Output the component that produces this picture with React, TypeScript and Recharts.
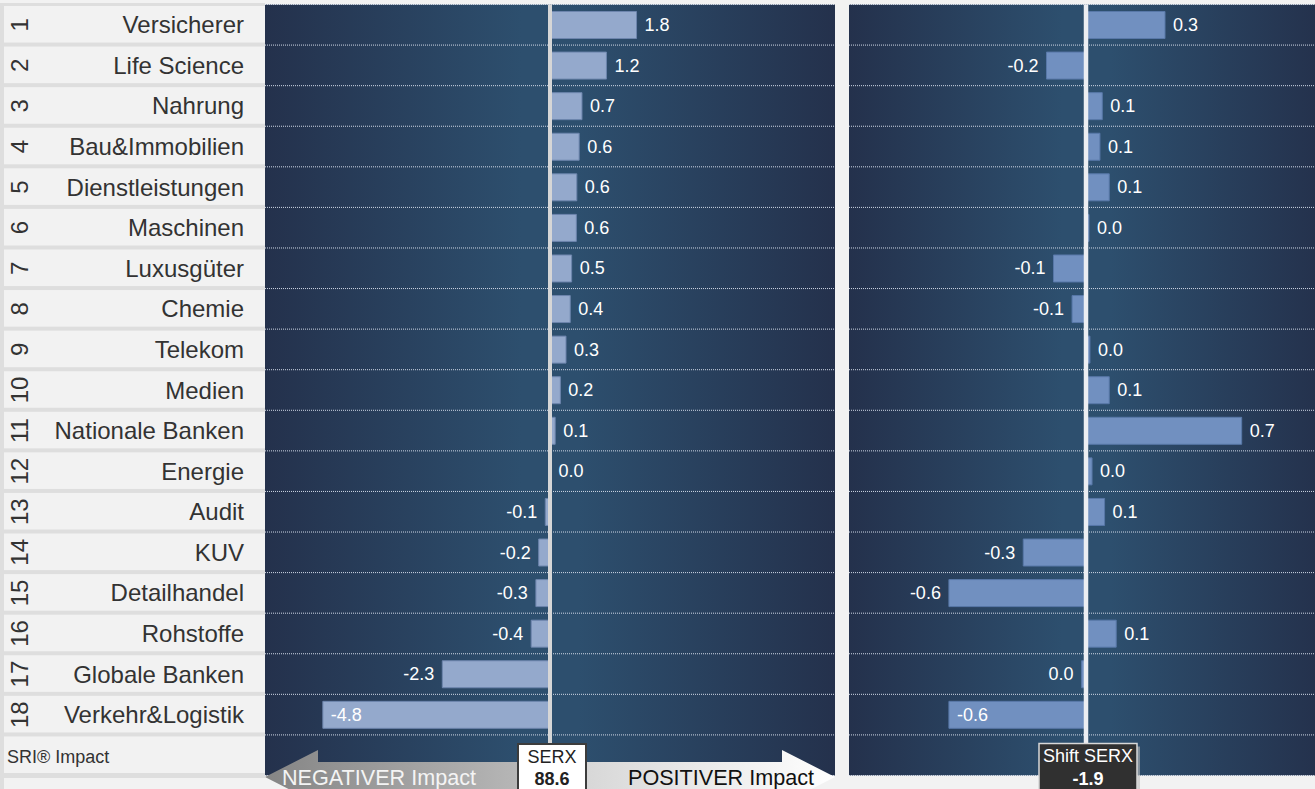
import React from 'react';
import { BarChart, Bar, XAxis, YAxis, CartesianGrid, ReferenceLine, LabelList } from 'recharts';

// ---------- data ----------
const categories = [
  'Versicherer', 'Life Science', 'Nahrung', 'Bau&Immobilien', 'Dienstleistungen', 'Maschinen',
  'Luxusgüter', 'Chemie', 'Telekom', 'Medien', 'Nationale Banken', 'Energie', 'Audit', 'KUV',
  'Detailhandel', 'Rohstoffe', 'Globale Banken', 'Verkehr&Logistik',
];
const ranks = ['1', '2', '3', '4', '5', '6', '7', '8', '9', '10', '11', '12', '13', '14', '15', '16', '17', '18'];
const summaryLabel = 'SRI® Impact';
const impactValues = [1.84, 1.2, 0.68, 0.62, 0.57, 0.56, 0.46, 0.43, 0.34, 0.22, 0.11, 0.01, -0.1, -0.24, -0.3, -0.4, -2.29, -4.83];
const shiftValues = [0.34, -0.17, 0.07, 0.06, 0.1, 0.013, -0.14, -0.06, 0.017, 0.1, 0.67, 0.026, 0.08, -0.27, -0.59, 0.13, -0.019, -0.59];
const serxTitle = 'SERX';
const serxValue = '88.6';
const shiftTitle = 'Shift SERX';
const shiftValue = '-1.9';
const negativeText = 'NEGATIVER Impact';
const positiveText = 'POSITIVER Impact';

// ---------- layout ----------
const W = 1315;
const H = 789;
const TOP = 4.5;
const BOTTOM_Y = 775.5;
const ROWS = categories.length + 1;
const ROW_H = (BOTTOM_Y - TOP) / ROWS;
const LABEL_W = 265;
const LEFT_W = 835;
const RIGHT_X = 849;
const RIGHT_W = 474;
const L_DOMAIN: [number, number] = [-6.06, 6.06];
const R_DOMAIN: [number, number] = [-1.02, 1.02];
const L_ZERO = LABEL_W + ((0 - L_DOMAIN[0]) / (L_DOMAIN[1] - L_DOMAIN[0])) * (LEFT_W - LABEL_W);
const R_ZERO = RIGHT_X + ((0 - R_DOMAIN[0]) / (R_DOMAIN[1] - R_DOMAIN[0])) * RIGHT_W;
const FONT = '"Liberation Sans", Arial, Helvetica, sans-serif';

const allNames = [...categories, summaryLabel];
const leftData = allNames.map((name, i) => ({ name, v: i < impactValues.length ? impactValues[i] : null }));
const rightData = allNames.map((name, i) => ({ name, v: i < shiftValues.length ? shiftValues[i] : null }));

const fmt = (v: number) => {
  const s = v.toFixed(1);
  return s === '-0.0' ? '0.0' : s;
};

const rowLines = (arg: any) => {
  const top = arg && arg.offset ? arg.offset.top : TOP;
  const h = arg && arg.offset ? arg.offset.height : BOTTOM_Y - TOP;
  const out: number[] = [];
  for (let i = 0; i <= ROWS; i++) out.push(top + (i * h) / ROWS);
  return out;
};

const LabelTick = (props: any) => {
  const { y, payload } = props;
  const name = payload.value;
  const i = allNames.indexOf(name);
  const isSum = i === categories.length;
  return (
    <g>
      <rect x={4} y={y - ROW_H / 2 + 1.5} width={LABEL_W - 4} height={ROW_H - 4} fill="#f2f2f2" />
      {isSum ? (
        <text x={7} y={y + 2} fontSize={18} fill="#333" dominantBaseline="central" fontFamily={FONT}>
          {name}
        </text>
      ) : (
        <>
          <text
            transform={`translate(19 ${y}) rotate(-90)`}
            textAnchor="middle"
            dominantBaseline="central"
            fontSize={24}
            fill="#333"
            fontFamily={FONT}
          >
            {ranks[i]}
          </text>
          <text x={244} y={y} textAnchor="end" dominantBaseline="central" fontSize={24} fill="#333" fontFamily={FONT}>
            {name}
          </text>
        </>
      )}
    </g>
  );
};

const makeValueLabel = (lastIdx: number) => (props: any) => {
  const vb = props.viewBox || props;
  const { value, index } = props;
  if (value == null || typeof value !== 'number') return null;
  const x = Number(vb.x), y = Number(vb.y), w = Number(vb.width), h = Number(vb.height);
  const left = Math.min(x, x + w);
  const right = Math.max(x, x + w);
  const cy = y + h / 2;
  let tx = right + 8;
  let anchor: 'start' | 'end' = 'start';
  if (value < 0) {
    if (index === lastIdx) {
      tx = left + 8;
    } else {
      tx = left - 8;
      anchor = 'end';
    }
  }
  return (
    <text x={tx} y={cy} textAnchor={anchor} dominantBaseline="central" fontSize={18} fill="#ffffff" fontFamily={FONT}>
      {fmt(value)}
    </text>
  );
};

export default function App() {
  const lastIdx = categories.length - 1;
  return (
    <div
      style={{
        position: 'fixed',
        left: 0,
        top: 0,
        width: W,
        height: H,
        overflow: 'hidden',
        background: '#f2f2f2',
        fontFamily: FONT,
      }}
    >
      <svg width={0} height={0} style={{ position: 'absolute' }}>
        <defs>
          <linearGradient id="panelGrad" x1="0" y1="0" x2="1" y2="0">
            <stop offset="0%" stopColor="#24314c" />
            <stop offset="45%" stopColor="#2d4f6e" />
            <stop offset="55%" stopColor="#2d4f6e" />
            <stop offset="100%" stopColor="#24314c" />
          </linearGradient>
          <linearGradient id="negGrad" x1="0" y1="0" x2="1" y2="0">
            <stop offset="0%" stopColor="#858585" />
            <stop offset="100%" stopColor="#bcbcbc" />
          </linearGradient>
          <linearGradient id="posGrad" x1="0" y1="0" x2="1" y2="0">
            <stop offset="0%" stopColor="#d2d2d2" />
            <stop offset="100%" stopColor="#ffffff" />
          </linearGradient>
        </defs>
      </svg>

      {/* label column background (separators) */}
      <div style={{ position: 'absolute', left: 0, top: 3, width: LABEL_W, height: H, background: '#dedede' }} />
      <div style={{ position: 'absolute', left: 4, top: BOTTOM_Y + 2, width: LABEL_W - 4, height: 40, background: '#f2f2f2' }} />

      {/* left chart */}
      <div style={{ position: 'absolute', left: 0, top: 0 }}>
        <BarChart
          width={LEFT_W}
          height={H}
          data={leftData}
          layout="vertical"
          margin={{ top: TOP, right: 0, bottom: H - BOTTOM_Y, left: 0 }}
        >
          <CartesianGrid
            horizontal
            vertical={false}
            fill="url(#panelGrad)"
            fillOpacity={1}
            stroke="#d0d8e6"
            strokeDasharray="1 1"
            horizontalCoordinatesGenerator={rowLines}
          />
          <XAxis type="number" domain={L_DOMAIN} hide allowDataOverflow />
          <YAxis
            type="category"
            dataKey="name"
            width={LABEL_W}
            axisLine={false}
            tickLine={false}
            interval={0}
            tick={LabelTick}
          />
          <Bar dataKey="v" barSize={27} fill="#94a9cc" stroke="#6d85ad" strokeWidth={1} isAnimationActive={false}>
            <LabelList dataKey="v" content={makeValueLabel(lastIdx)} />
          </Bar>
          <ReferenceLine x={0} stroke="#d6d6d6" strokeWidth={4} />
        </BarChart>
      </div>

      {/* right chart */}
      <div style={{ position: 'absolute', left: RIGHT_X, top: 0 }}>
        <BarChart
          width={RIGHT_W}
          height={H}
          data={rightData}
          layout="vertical"
          margin={{ top: TOP, right: 0, bottom: H - BOTTOM_Y, left: 0 }}
        >
          <CartesianGrid
            horizontal
            vertical={false}
            fill="url(#panelGrad)"
            fillOpacity={1}
            stroke="#d0d8e6"
            strokeDasharray="1 1"
            horizontalCoordinatesGenerator={rowLines}
          />
          <XAxis type="number" domain={R_DOMAIN} hide allowDataOverflow />
          <YAxis type="category" dataKey="name" hide width={0} />
          <Bar dataKey="v" barSize={27} fill="#7190c0" stroke="#5878a8" strokeWidth={1} isAnimationActive={false}>
            <LabelList dataKey="v" content={makeValueLabel(lastIdx)} />
          </Bar>
          <ReferenceLine x={0} stroke="#eceef2" strokeWidth={4.5} />
        </BarChart>
      </div>

      {/* overlay: arrows and SERX boxes */}
      <svg
        width={W}
        height={H}
        style={{ position: 'absolute', left: 0, top: 0, pointerEvents: 'none' }}
        fontFamily={FONT}
      >
        <polygon
          points={`${LABEL_W},777 ${LABEL_W + 53},750 ${LABEL_W + 53},762 ${L_ZERO - 2},762 ${L_ZERO - 2},792 ${LABEL_W + 53},792 ${LABEL_W + 53},804`}
          fill="url(#negGrad)"
        />
        <polygon
          points={`${L_ZERO + 2},762 ${LEFT_W - 53},762 ${LEFT_W - 53},750 ${LEFT_W},777 ${LEFT_W - 53},804 ${LEFT_W - 53},792 ${L_ZERO + 2},792`}
          fill="url(#posGrad)"
        />
        <text x={282} y={777} fontSize={21.6} fill="#f4f4f4" dominantBaseline="central">
          {negativeText}
        </text>
        <text x={628} y={777} fontSize={21.6} fill="#111" dominantBaseline="central">
          {positiveText}
        </text>

        <rect x={L_ZERO + 2 - 34} y={744} width={68} height={60} fill="#ffffff" stroke="#3c3c3c" strokeWidth={2} />
        <text x={L_ZERO + 2} y={757} fontSize={18} fill="#222" textAnchor="middle" dominantBaseline="central">
          {serxTitle}
        </text>
        <text x={L_ZERO + 2} y={779} fontSize={18} fontWeight="bold" fill="#222" textAnchor="middle" dominantBaseline="central">
          {serxValue}
        </text>

        <rect x={R_ZERO + 2 - 49 + 3} y={746.5} width={98} height={60} fill="#bdbdbd" opacity={0.6} />
        <rect x={R_ZERO + 2 - 49} y={743.5} width={98} height={60} fill="#303030" stroke="#d8d8d8" strokeWidth={1.5} />
        <text x={R_ZERO + 2} y={756} fontSize={18} fill="#ffffff" textAnchor="middle" dominantBaseline="central">
          {shiftTitle}
        </text>
        <text x={R_ZERO + 2} y={778.5} fontSize={18} fontWeight="bold" fill="#ffffff" textAnchor="middle" dominantBaseline="central">
          {shiftValue}
        </text>
      </svg>
    </div>
  );
}
